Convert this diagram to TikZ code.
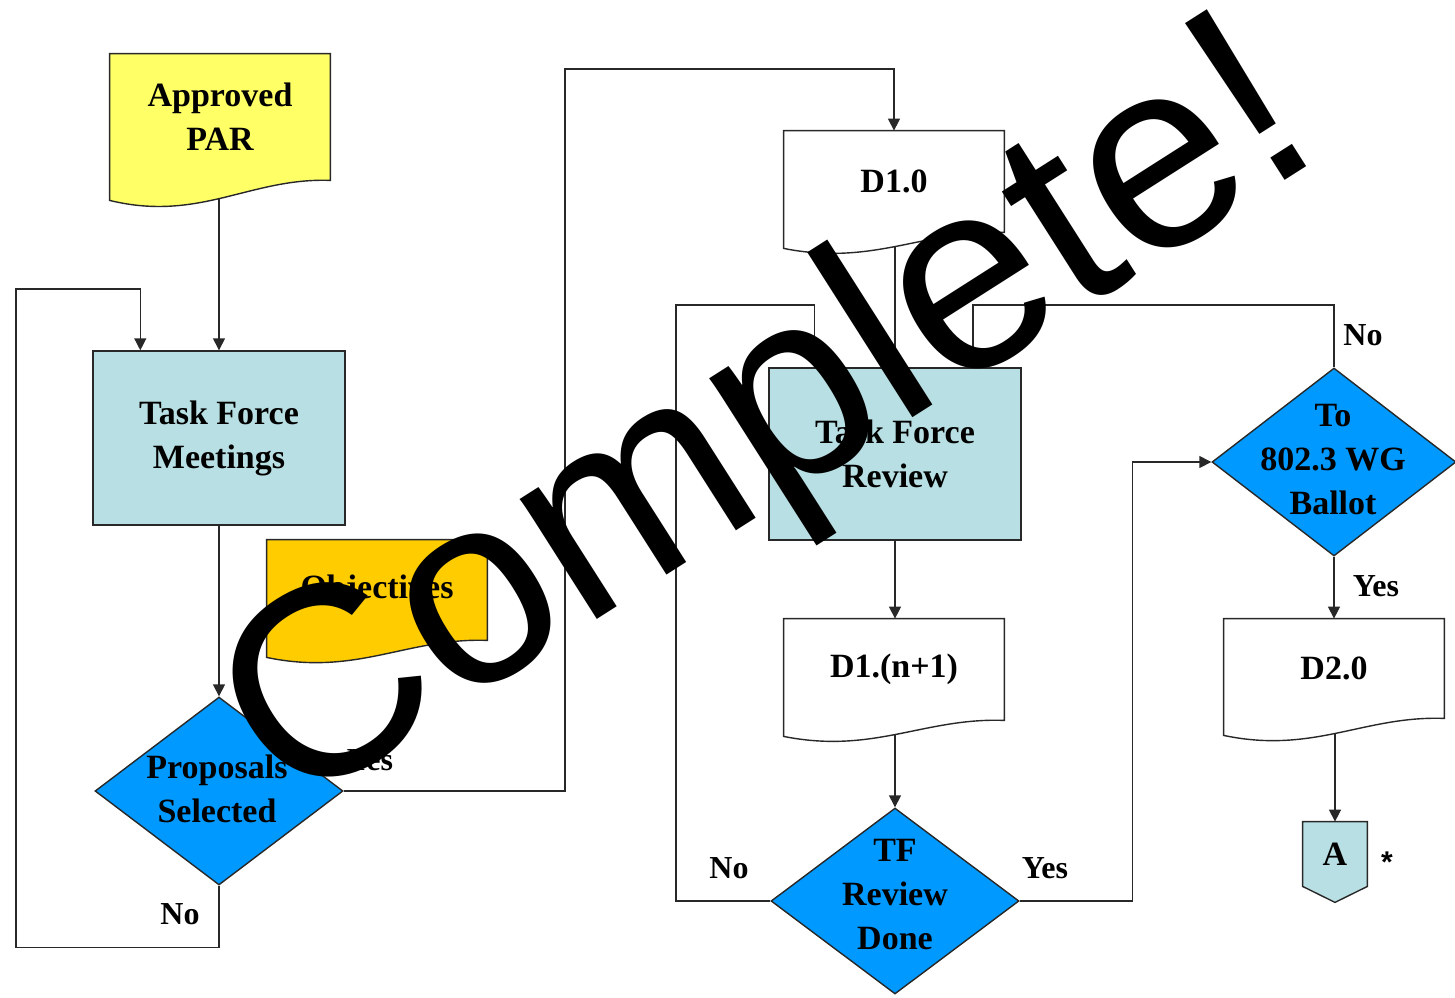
\documentclass[tikz,border=0pt]{standalone}
\usepackage{fontspec}
\setmainfont{Liberation Serif}
\newfontfamily\wmfont{Liberation Sans}
\usetikzlibrary{arrows.meta,calc,shapes.geometric}
\pgfdeclarelayer{bg}
\pgfdeclarelayer{shp}
\pgfsetlayers{bg,shp,main}
\definecolor{tfblue}{RGB}{184,223,227}
\definecolor{decblue}{RGB}{0,153,255}
\definecolor{paryellow}{RGB}{255,255,102}
\definecolor{objorange}{RGB}{255,204,0}
\definecolor{linegray}{RGB}{40,40,40}
\newcommand\docshape[3]{%
  \begin{pgfonlayer}{shp}
    \draw[draw=linegray, line width=0.7pt, fill=#2] (#1.north west) -- (#1.north east) -- (#1.south east)
      .. controls +(-80,-3) and +(90,#3+2) .. ($(#1.south west)+(0,#3)$) -- cycle;
  \end{pgfonlayer}}
\begin{document}
\begin{tikzpicture}[x=0.5pt,y=-0.5pt,
  conn/.style={draw=linegray, line width=0.7pt},
  arr/.style={conn, -{Triangle[length=6pt,width=6pt]}},
  txt/.style={font=\fontsize{17}{22}\selectfont\bfseries, align=center, inner sep=0pt},
  lbl/.style={font=\fontsize{16}{20}\selectfont\bfseries, inner sep=0pt},
  docnode/.style={draw=none, minimum width=110pt, inner sep=0pt, txt},
  procbox/.style={draw=linegray, line width=0.7pt, fill=tfblue, minimum width=126pt, inner sep=0pt, txt},
  decision/.style={diamond, aspect=1.3, draw=linegray, line width=0.7pt, fill=decblue, inner sep=0pt, minimum width=124pt, minimum height=94pt}]
\useasboundingbox (0,0) rectangle (1455,997);

% documents
\node[docnode, minimum height=63pt] (par) at (220,117) {Approved\\PAR};
\docshape{par}{paryellow}{20}
\node[docnode, minimum height=50.5pt] (d10) at (894,181.5) {D1.0};
\docshape{d10}{white}{16}
\node[docnode, minimum height=50pt] (obj) at (377,590) {Objectives};
\docshape{obj}{objorange}{17}
\node[docnode, minimum height=50.5pt] (dn1) at (894,669.5) {D1.(n+1)};
\docshape{dn1}{white}{16}
\node[docnode, minimum height=49.5pt] (d20) at (1334,668.5) {D2.0};
\docshape{d20}{white}{17}

% process boxes
\node[procbox, minimum height=87pt] (tfm) at (219,438) {Task Force\\Meetings};
\node[procbox, minimum height=86pt] (tfr) at (895,454) {Task Force\\Review};

% decisions
\node[decision] (psel) at (219,791) {};
\node[txt] (pselt) at (217,789) {Proposals\\Selected};
\node[decision, minimum height=93pt] (tfd) at (895,901) {};
\node[txt] (tfdt) at (895,895) {TF\\Review\\Done};
\node[decision, minimum width=122pt] (bal) at (1334,462) {};
\node[txt] (balt) at (1333,460) {To\\802.3 WG\\Ballot};

% off-page connector
\node[draw=none, minimum width=32pt, minimum height=32pt, inner sep=0pt, txt] (cona) at (1335,854) {A};
\begin{pgfonlayer}{shp}
  \draw[draw=linegray, line width=0.7pt, fill=tfblue] (cona.north west) -- (cona.north east) -- (cona.south east)
    -- ($(cona.south)+(0,16)$) -- (cona.south west) -- cycle;
\end{pgfonlayer}
\node[font=\wmfont\bfseries\fontsize{15}{15}\selectfont, inner sep=0pt] (star) at (1387,862) {*};

% corner coordinates
\coordinate (yup) at (565,69);
\coordinate (nb) at (973,305);

% connectors
\begin{pgfonlayer}{bg}
  \draw[arr] (par.south -| tfm.north) -- (tfm.north);
  \draw[arr] (tfm.south) -- (psel.north);
  \draw[arr] (psel.south) -- ++(0,62) -| (16,289) -| ($(tfm.north west)+(48,0)$);
  \draw[arr] (psel.east) -| (yup) -| (d10.north);
  \draw[arr] (d10.south -| tfr.north) -- (tfr.north);
  \draw[arr] (tfd.west) -| (676,305) -| ($(tfr.north west)+(46,0)$);
  \draw[arr] (bal.north) |- (nb) -- (nb |- tfr.north);
  \draw[arr] (tfr.south) -- (tfr.south |- dn1.north);
  \draw[arr] (dn1.south -| tfd.north) -- (tfd.north);
  \draw[arr] (tfd.east) -| ($(bal.west)+(-79,0)$) -- (bal.west);
  \draw[arr] (bal.south) -- (bal.south |- d20.north);
  \draw[arr] (d20.south -| cona.north) -- (cona.north);
\end{pgfonlayer}

% labels
\node[lbl] (no1) at (180,914) {No};
\node[lbl] (yes1) at (370,760) {Yes};
\node[lbl] (no2) at (729,868) {No};
\node[lbl] (yes2) at (1045,868) {Yes};
\node[lbl] (no3) at (1363,335) {No};
\node[lbl] (yes3) at (1376,586) {Yes};

% watermark
\node[font=\wmfont\fontsize{135}{135}\selectfont, rotate=32.5, inner sep=0pt] (wm) at (772,425) {Complete!};
\end{tikzpicture}
\end{document}
